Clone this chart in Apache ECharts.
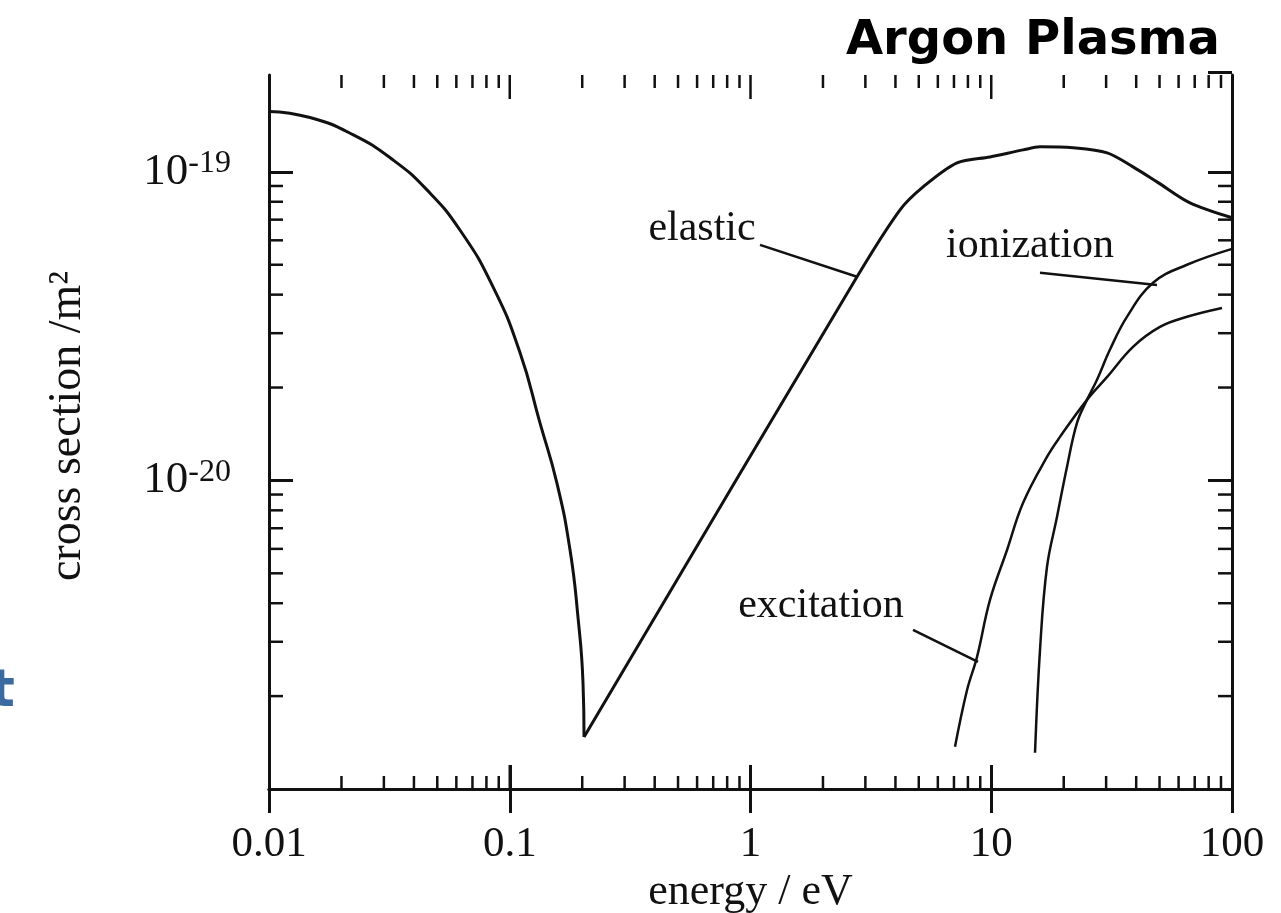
<!DOCTYPE html>
<html lang="en">
<head>
<meta charset="UTF-8">
<title>Argon Plasma</title>
<style>
html, body { margin: 0; padding: 0; background: #fff; }
#chart { width: 1281px; height: 913px; }
</style>
</head>
<body>
<div id="chart"></div>
<script src="https://cdn.jsdelivr.net/npm/echarts@6/dist/echarts.min.js"></script>
<script>
// energy (eV) and cross section (m^2)
var elasticE = [0.01, 0.0148, 0.0223, 0.0327, 0.0453, 0.0621, 0.0852, 0.110, 0.1335, 0.157, 0.178, 0.192, 0.2015, 0.2035,
                2.77, 4.18, 5.21, 7.21, 9.88, 13.55, 15.94, 21.86, 30.3, 38.8, 48.8, 66.9, 100];
var elasticS = [1.57e-19, 1.50e-19, 1.32e-19, 1.094e-19, 8.74e-20, 6.48e-20, 4.24e-20, 2.61e-20, 1.536e-20, 9.8e-21, 5.95e-21, 3.61e-21, 2.21e-21, 1.475e-21,
                4.57e-20, 7.53e-20, 8.94e-20, 1.07e-19, 1.118e-19, 1.178e-19, 1.205e-19, 1.196e-19, 1.152e-19, 1.038e-19, 9.28e-20, 7.93e-20, 7.1e-20];
var elasticMinIndex = 13;

var ionE = [15.2, 15.94, 17.04, 18.75, 20.63, 22.71, 24.98, 27.5, 31.1, 36.6, 47.0, 65.0, 100];
var ionS = [1.31e-21, 2.82e-21, 5.24e-21, 7.61e-21, 1.106e-20, 1.536e-20, 1.824e-20, 2.12e-20, 2.65e-20, 3.39e-20, 4.37e-20, 5.0e-20, 5.63e-20];

var excE = [7.07, 7.93, 8.73, 9.88, 11.63, 13.55, 17.04, 19.3, 24.98, 30.3, 38.8, 50.2, 65.0, 90.9];
var excS = [1.37e-21, 2.09e-21, 2.68e-21, 4.10e-21, 5.95e-21, 8.45e-21, 1.192e-20, 1.384e-20, 1.824e-20, 2.165e-20, 2.71e-20, 3.145e-20, 3.39e-20, 3.62e-20];

// curve labels: text anchor, leader line start and end (data coords)
var annoText = ['elastic', 'ionization', 'excitation'];
var annoAt = [[0.629, 6.53e-20], [14.5, 5.76e-20], [1.963, 3.92e-21]];
var annoFrom = [[1.095, 5.80e-20], [15.94, 4.71e-20], [4.73, 3.28e-21]];
var annoTo = [[2.77, 4.57e-20], [48.8, 4.30e-20], [8.81, 2.58e-21]];

var xRange = [0.01, 100];
var yRange = [1e-21, 2.06e-19];
var xTickLabels = ['0.01', '0.1', '1', '10', '100'];
var xMajorTicks = [0.1, 1, 10];
var xMinorTicks = [0.02, 0.03, 0.04, 0.05, 0.06, 0.07, 0.08, 0.09,
                   0.2, 0.3, 0.4, 0.5, 0.6, 0.7, 0.8, 0.9,
                   2, 3, 4, 5, 6, 7, 8, 9,
                   20, 30, 40, 50, 60, 70, 80, 90];
var yMinorTicks = [2e-21, 3e-21, 4e-21, 5e-21, 6e-21, 7e-21, 8e-21, 9e-21,
                   2e-20, 3e-20, 4e-20, 5e-20, 6e-20, 7e-20, 8e-20, 9e-20];

var INK = '#111';
var SERIF = '"Liberation Serif", "Times New Roman", serif';

function pairs(xs, ys) {
    return xs.map(function (x, i) { return [x, ys[i]]; });
}

function curve(name, data, width, smooth) {
    return {
        name: name, type: 'line', data: data, smooth: smooth,
        showSymbol: false, silent: true,
        lineStyle: { color: INK, width: width }
    };
}

function logAxis(range, pos) {
    return {
        type: 'log', logBase: 10, min: range[0], max: range[1], position: pos,
        axisLine: { lineStyle: { color: INK, width: 3 } },
        axisTick: { inside: true, length: 24, lineStyle: { color: INK, width: 3 } },
        splitLine: { show: false },
        axisLabel: { show: false }
    };
}

// vertical ticks hanging from top and rising from bottom
function xTickSeries(values, len) {
    return {
        type: 'custom', silent: true, xAxisIndex: 1, yAxisIndex: 1,
        data: values.map(function (v) { return [v, yRange[0]]; }),
        renderItem: function (params, api) {
            var v = api.value(0);
            var b = api.coord([v, yRange[0]]);
            var t = api.coord([v, yRange[1]]);
            var st = { stroke: INK, lineWidth: 2.5 };
            return { type: 'group', children: [
                { type: 'line', shape: { x1: b[0], y1: b[1], x2: b[0], y2: b[1] - len }, style: st },
                { type: 'line', shape: { x1: t[0], y1: t[1], x2: t[0], y2: t[1] + len }, style: st }
            ] };
        }
    };
}

var chart = echarts.init(document.getElementById('chart'));

var elasticData = pairs(elasticE, elasticS);

var xBottom = logAxis(xRange, 'bottom');
xBottom.axisLabel = {
    margin: 34, fontFamily: SERIF, fontSize: 43, color: INK,
    formatter: function (v) { return xTickLabels[Math.round(Math.log10(v)) + 2]; }
};
xBottom.name = 'energy / eV';
xBottom.nameLocation = 'middle';
xBottom.nameGap = 78;
xBottom.nameTextStyle = { fontFamily: SERIF, fontSize: 44, color: INK };

var yLeft = logAxis(yRange, 'left');
yLeft.axisLabel = {
    margin: 38, showMaxLabel: false, color: INK,
    formatter: function (v) { return '{b|10}{s|' + Math.round(Math.log10(v)) + '}'; },
    rich: {
        b: { fontFamily: SERIF, fontSize: 45, lineHeight: 48, color: INK },
        s: { fontFamily: SERIF, fontSize: 32, lineHeight: 34, verticalAlign: 'top', color: INK }
    }
};

var option = {
    animation: false,
    backgroundColor: '#fff',
    title: {
        text: 'Argon Plasma', right: 56, top: 13,
        textStyle: { fontFamily: '"DejaVu Sans"', fontWeight: 'bold', fontSize: 48, color: '#000' }
    },
    graphic: [{
        type: 'text', x: 68, y: 426, rotation: Math.PI / 2,
        style: { text: 'cross section /m\u00b2', fontFamily: SERIF, fontSize: 46, fill: INK,
                 align: 'center', verticalAlign: 'middle' }
    }, {
        type: 'text', left: -10, top: 666,
        style: { text: 't', font: 'bold 52px "DejaVu Sans"', fill: '#3d6a9e' }
    }],
    grid: { left: 269, right: 49, top: 75, bottom: 124, containLabel: false, outerBoundsMode: 'none' },
    xAxis: [xBottom, logAxis(xRange, 'top')],
    yAxis: [yLeft, logAxis(yRange, 'right')],
    series: [
        curve('elastic', elasticData.slice(0, elasticMinIndex + 1), 3, 0.5),
        curve('elastic', elasticData.slice(elasticMinIndex), 3, 0.3),
        curve('ionization', pairs(ionE, ionS), 2.5, 0.4),
        curve('excitation', pairs(excE, excS), 2.5, 0.4),
        xTickSeries(xMinorTicks, 13),
        xTickSeries(xMajorTicks, 24),
        {
            // minor ticks on left and right
            type: 'custom', silent: true,
            data: yMinorTicks.map(function (v) { return [xRange[0], v]; }),
            renderItem: function (params, api) {
                var v = api.value(1);
                var l = api.coord([xRange[0], v]);
                var r = api.coord([xRange[1], v]);
                var st = { stroke: INK, lineWidth: 2.5 };
                return { type: 'group', children: [
                    { type: 'line', shape: { x1: l[0], y1: l[1], x2: l[0] + 14, y2: l[1] }, style: st },
                    { type: 'line', shape: { x1: r[0], y1: r[1], x2: r[0] - 14, y2: r[1] }, style: st }
                ] };
            }
        },
        {
            // curve names with leader lines
            type: 'custom', silent: true,
            data: annoText.map(function (s, i) {
                return [annoAt[i][0], annoAt[i][1], annoFrom[i][0], annoFrom[i][1], annoTo[i][0], annoTo[i][1]];
            }),
            encode: { x: 0, y: 1 },
            renderItem: function (params, api) {
                var c = api.coord([api.value(0), api.value(1)]);
                var a = api.coord([api.value(2), api.value(3)]);
                var b = api.coord([api.value(4), api.value(5)]);
                return { type: 'group', children: [
                    { type: 'text', x: c[0], y: c[1], style: {
                        text: annoText[params.dataIndex], fontFamily: SERIF, fontSize: 42,
                        fill: INK, align: 'center', verticalAlign: 'middle' } },
                    { type: 'line', shape: { x1: a[0], y1: a[1], x2: b[0], y2: b[1] },
                      style: { stroke: INK, lineWidth: 2.5 } }
                ] };
            }
        }
    ]
};
chart.setOption(option);
</script>
</body>
</html>
